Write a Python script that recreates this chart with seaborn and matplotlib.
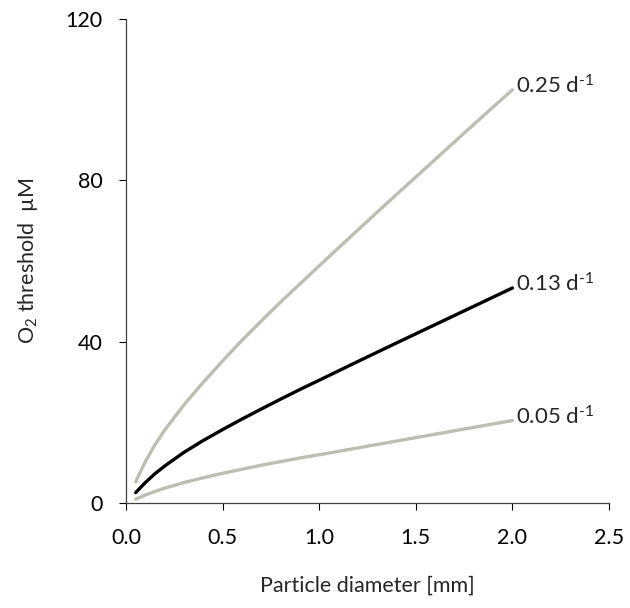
import matplotlib
matplotlib.use("Agg")
import matplotlib.pyplot as plt
import seaborn as sns
import pandas as pd

# Data
diameter = [0.05, 0.1, 0.15, 0.2, 0.3, 0.4, 0.5, 0.6, 0.7, 0.8, 0.9, 1.0, 1.2, 1.4, 1.6, 1.8, 2.0]
rate_025 = [5.2, 10.2, 14.4, 18.0, 24.3, 29.9, 35.2, 40.3, 45.1, 49.8, 54.3, 58.8, 67.7, 76.5, 85.2, 93.9, 102.5]
rate_013 = [2.5, 5.0, 7.2, 9.1, 12.5, 15.45, 18.15, 20.75, 23.25, 25.7, 28.1, 30.4, 35.05, 39.65, 44.2, 48.75, 53.3]
rate_005 = [0.85, 1.9, 2.8, 3.6, 5.0, 6.2, 7.3, 8.3, 9.3, 10.2, 11.1, 11.9, 13.6, 15.3, 17.0, 18.7, 20.4]
series_names = ["0.25", "0.13", "0.05"]
x_ticks = [0.0, 0.5, 1.0, 1.5, 2.0, 2.5]
y_ticks = [0, 40, 80, 120]

sns.set_style("white")
plt.rcParams['font.family'] = ['Lato', 'DejaVu Sans']
plt.rcParams['mathtext.fontset'] = 'custom'
plt.rcParams['mathtext.rm'] = 'Lato'
plt.rcParams['mathtext.it'] = 'Lato'

rows = []
for name, vals in zip(series_names, [rate_025, rate_013, rate_005]):
    for d, v in zip(diameter, vals):
        rows.append({"d": d, "o2": v, "rate": name})
df = pd.DataFrame(rows)

grey = "#BDBDB1"
palette = {"0.25": grey, "0.13": "#000000", "0.05": grey}

fig = plt.figure(figsize=(6.3, 6.08), dpi=100)
ax = fig.add_axes([0.2, 0.1732, 0.7667, 0.7951])
sns.lineplot(data=df, x="d", y="o2", hue="rate", palette=palette,
             linewidth=2.4, legend=False, ax=ax)

for name, vals in zip(series_names, [rate_025, rate_013, rate_005]):
    ax.text(diameter[-1] + 0.02, vals[-1] + 1.0, name + r" d$^{\text{-1}}$",
            fontsize=16, va="center", ha="left")

ax.set_xlim(0, 2.5)
ax.set_ylim(0, 120)
ax.set_xticks(x_ticks)
ax.set_xticklabels([f"{t:.1f}" for t in x_ticks])
ax.set_yticks(y_ticks)
ax.set_yticklabels([str(t) for t in y_ticks])
ax.tick_params(axis="both", labelsize=15.5, colors="black", length=5,
               width=0.8, direction="out")
ax.tick_params(axis="x", pad=13, bottom=True)
ax.tick_params(axis="y", pad=12, left=True)

for s in ["top", "right"]:
    ax.spines[s].set_visible(False)
for s in ["left", "bottom"]:
    ax.spines[s].set_color("#404040")
    ax.spines[s].set_linewidth(0.9)

ax.set_xlabel("Particle diameter [mm]", fontsize=15.5, labelpad=20)
ax.set_ylabel("O$_2$ threshold  µM", fontsize=15.5, labelpad=18)

fig.savefig("out.png", dpi=100)
